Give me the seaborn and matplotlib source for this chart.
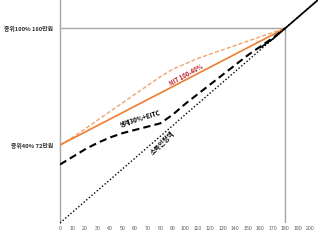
import matplotlib
matplotlib.use("Agg")
import matplotlib.pyplot as plt
import seaborn as sns
import pandas as pd

# ---- data ----
x_vals = [0, 10, 20, 30, 40, 50, 60, 70, 80, 90, 100, 110, 120, 130, 140, 150, 160, 170, 180]
nit_solid = [72, 78, 84, 90, 96, 102, 108, 114, 120, 126, 132, 138, 144, 150, 156, 162, 168, 174, 180]
nit_dashed = [72, 79, 87, 95, 103, 111, 119, 127, 135, 142, 147, 152, 156, 160, 164, 168, 172, 176, 180]
welfare_eitc = [54, 61, 68, 74, 79, 83, 86, 89, 92, 100, 110, 119, 128, 137, 146, 155, 163, 171, 180]
upper_x = [160, 170, 180, 190, 200, 206]
upper_y = [162, 170, 180, 190, 200, 206]
income_x = [0, 206]
income_y = [0, 206]
x_ticks = [0, 10, 20, 30, 40, 50, 60, 70, 80, 90, 100, 110, 120, 130, 140, 150, 160, 170, 180, 190, 200]
y_ticks = [72, 180]
y_labels = ["중위40% 72만원", "중위100% 180만원"]
median_line = 180
label_nit = "NIT 100-40%"
label_welfare = "생계30%+EITC"
label_income = "소득인정액"

sns.set_theme(style="white")
plt.rcParams['font.family'] = ['Noto Sans CJK KR', 'DejaVu Sans']

fig = plt.figure(figsize=(3.2, 2.4), dpi=100)
ax = fig.add_axes([0.1875, 0.071, 0.806, 0.929])

grey = "#A6A6A6"
ax.vlines(median_line, 0, median_line, color=grey, lw=1.0, zorder=1)
ax.hlines(median_line, 0, median_line, color=grey, lw=1.0, zorder=1)

df1 = pd.DataFrame({"x": x_vals, "y": nit_dashed})
sns.lineplot(data=df1, x="x", y="y", ax=ax, color="#F0A46E", lw=1.0,
             linestyle=(0, (3, 1.5)), zorder=3)
df2 = pd.DataFrame({"x": x_vals, "y": nit_solid})
sns.lineplot(data=df2, x="x", y="y", ax=ax, color="#ED7D31", lw=1.2, zorder=3)
df3 = pd.DataFrame({"x": x_vals, "y": welfare_eitc})
sns.lineplot(data=df3, x="x", y="y", ax=ax, color="black", lw=1.5,
             linestyle=(0, (3.5, 2)), zorder=4)
df4 = pd.DataFrame({"x": upper_x, "y": upper_y})
sns.lineplot(data=df4, x="x", y="y", ax=ax, color="black", lw=1.2, zorder=4)
df5 = pd.DataFrame({"x": income_x, "y": income_y})
sns.lineplot(data=df5, x="x", y="y", ax=ax, color="black", lw=1.0,
             linestyle=(0, (1, 1.5)), zorder=4)

ax.set_xlim(0, 206)
ax.set_ylim(0, 206)
ax.set_xticks(x_ticks)
ax.set_xticklabels([str(v) for v in x_ticks], fontsize=3.7, color="#595959",
                   family=['Liberation Sans', 'DejaVu Sans'])
ax.set_yticks(y_ticks)
ax.set_yticklabels(y_labels, fontsize=4.2, fontweight="bold", color="#333333")
ax.tick_params(axis="both", length=0, pad=2)
ax.tick_params(axis="y", pad=5)
ax.set_xlabel("")
ax.set_ylabel("")
for s in ["top", "right", "bottom"]:
    ax.spines[s].set_visible(False)
ax.spines["left"].set_color(grey)
ax.spines["left"].set_linewidth(1.0)

ax.text(101, 137, label_nit, color="#C0282D", fontsize=4.3, fontweight="bold",
        rotation=29, ha="center", va="center", zorder=5)
ax.text(64, 97, label_welfare, color="black", fontsize=4.5, fontweight="bold",
        rotation=17, ha="center", va="center", zorder=5)
ax.text(82, 74, label_income, color="black", fontsize=4.8, fontweight="bold",
        rotation=44, ha="center", va="center", zorder=5)

fig.savefig("out.png", dpi=100)
